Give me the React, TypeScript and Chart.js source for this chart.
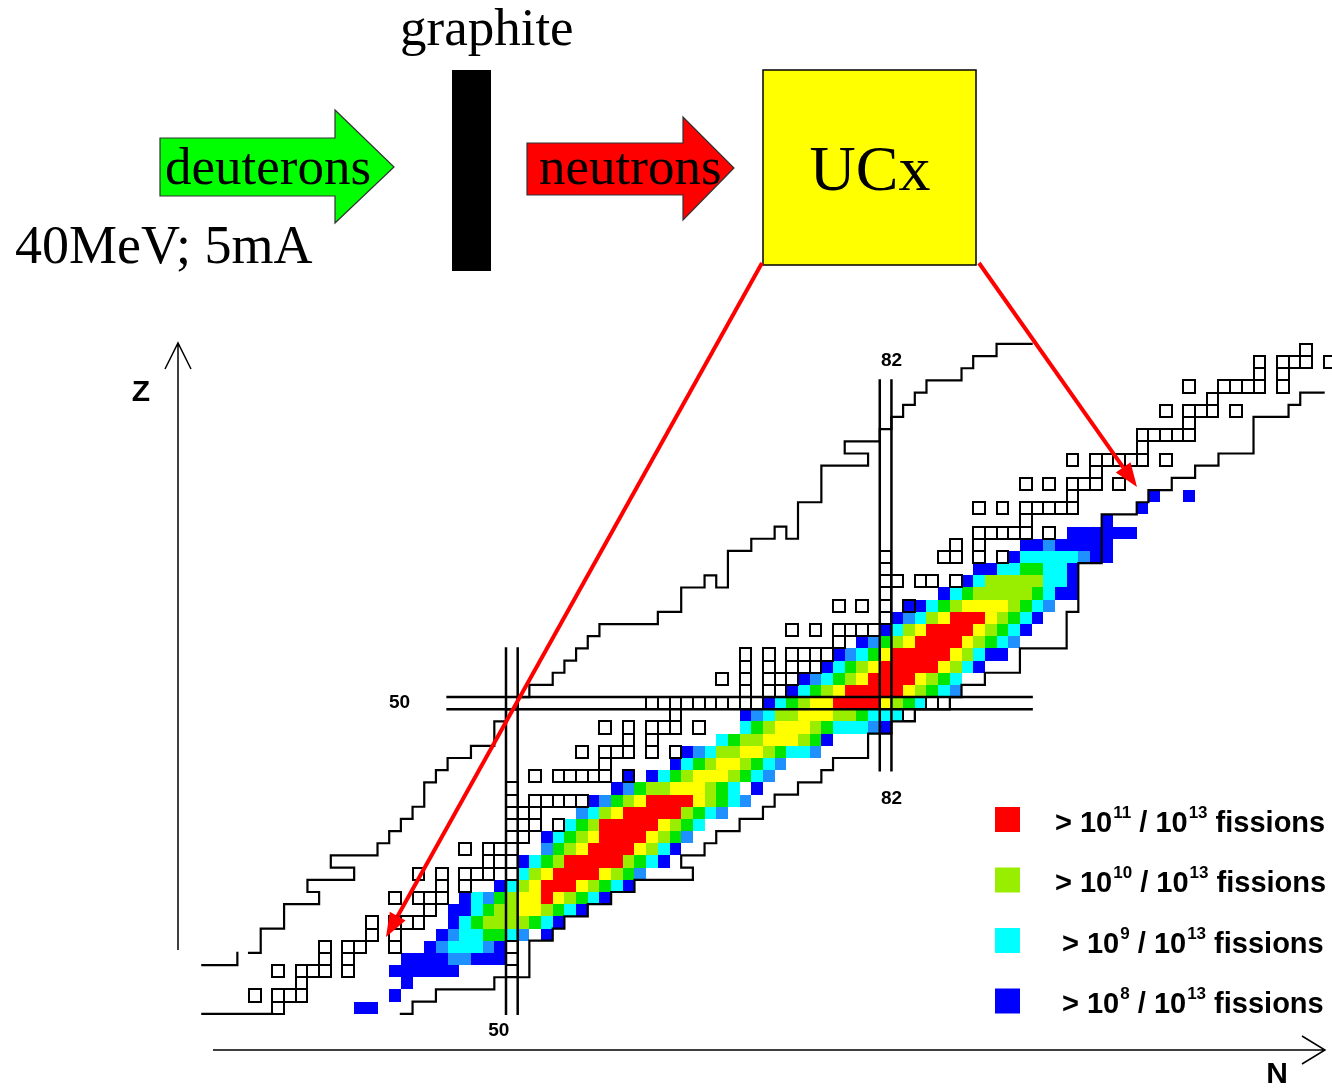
import React, { useEffect, useRef } from "react";
import { Chart, registerables } from "chart.js";

Chart.register(...registerables);

const CANVAS_W = 1332;
const CANVAS_H = 1088;

// ---------- DATA ----------
// proton number of each row of the nuclide chart
const rowZ = [25, 26, 27, 28, 29, 30, 31, 32, 33, 34, 35, 36, 37, 38, 39, 40, 41, 42, 43, 44, 45, 46, 47, 48, 49, 50, 51, 52, 53, 54, 55, 56, 57, 58, 59, 60, 61, 62, 63, 64, 65, 66, 67, 68, 69, 70, 71, 72, 73, 74, 75, 76, 77, 78, 79];
// neutron number of the first cell of each row
const rowStartN = [30, 28, 32, 30, 34, 34, 38, 38, 43, 40, 44, 42, 48, 46, 50, 50, 50, 50, 50, 52, 58, 56, 60, 58, 64, 62, 70, 68, 70, 70, 78, 74, 82, 78, 82, 82, 82, 82, 88, 90, 94, 90, 98, 94, 100, 98, 104, 104, 108, 106, 110, 108, 114, 114, 118];
// one char per neutron number: '.' none, 'o' known (open square), 'b' known & >1e8,
// B >1e8, D, C >1e9, G, L >1e10, Y, R >1e11 (per 1e13 fissions)
const rowCells = [
  "o......BB",
  "o.ooo.......B",
  "o........B",
  "o.ooo.o...BBBBBB....o",
  "o.o....BBBBDDBBBo",
  "o.oo..o..BDCCCDBo",
  "o.o...BDCCGGCD.B",
  "o.ooo..BCGLLLLGCB",
  "o.BBCGLLYYLGCB",
  "o.ooo.BCDGLYYRYLGCB",
  "o.o..BCLYRRRYLGCB",
  "o.o.ooo.oCLYRRRRYLGD",
  "oooBCGLRRRRRLGCB",
  "o.ooo..DGLYRRRRYLCB",
  "oo.BCGLYRRRRYLGD",
  "ooo.oCGLRRRRRYLGC",
  "ooo...DCLYRRRRRLGCD",
  "o.oooooBDGLYRRRRYLGCD",
  "o........BDGLLYYYLGC.B",
  "o.ooooo.b.BCGLYYYLGCD",
  "o.....BCGLYYLGCD",
  "o.ooo.o.oBDCLLYYLGCCD",
  "o.o.....CGLLYYYLGB",
  "o.o.ooo.o...CGLYYYLGCCCDB",
  "o.....BDCLLYYYLLGCCCo",
  "ooooooooooBCGLYYRRRRYLGCoo",
  "o.ooBCGLYRRRRRYLGCD",
  "o.o.oooBDCGLYRRRRYLGC",
  "o.o.oooBCGLYRRRRRYLCB",
  "o.o.ooooBDCGYRRRRRYLCBB",
  "o.BDGLYRRRRYLGCD",
  "o.o.ooooBCLYRRRRYLGCB",
  "oBDCLYRRRYLGCB",
  "o.o.o.bBCGLYYYYLGCD",
  "o....BCGLLLLLGCBB",
  "oo.oo.oBCLLLLLCCB",
  "o.......BBCCGGCCB",
  "o....oo.o.oBCCCCCDBB",
  "o.o...BBDBBBBB",
  "ooooo.o.BBBBBB",
  "o......B",
  "o.o.ooooo.....B",
  "o......B..B",
  "o.o.ooo.o",
  "o",
  "o.ooooo.o",
  "o",
  "ooooo",
  "o",
  "o.ooo.o",
  "o",
  "o..oooo.o",
  "o.o",
  "o.ooo.o",
  "o",
];

const cellColors: Record<string, string> = {
  R: "#ff0000",
  Y: "#ffff00",
  L: "#99ee00",
  G: "#00e600",
  C: "#00ffff",
  D: "#1e90ff",
  B: "#0000ff",
  b: "#0000ff",
};

// staircase boundaries of known nuclei, vertices as [N, Z] cell edges
const upperBoundaryA = [[23.5, 28.5], [26.5, 28.5], [26.5, 29.5]];
const upperBoundaryB = [[27.5, 29.5], [28.5, 29.5], [28.5, 31.5], [30.5, 31.5], [30.5, 33.5], [33.5, 33.5], [33.5, 34.5], [32.5, 34.5], [32.5, 35.5], [36.5, 35.5], [36.5, 36.5], [34.5, 36.5], [34.5, 37.5], [38.5, 37.5], [38.5, 38.5], [39.5, 38.5], [39.5, 39.5], [40.5, 39.5], [40.5, 40.5], [41.5, 40.5], [41.5, 41.5], [42.5, 41.5], [42.5, 43.5], [43.5, 43.5], [43.5, 44.5], [44.5, 44.5], [44.5, 45.5], [46.5, 45.5], [46.5, 46.5], [48.5, 46.5], [48.5, 48.5], [49.5, 48.5], [49.5, 49.5], [50.5, 49.5], [50.5, 50.5], [51.5, 50.5], [51.5, 51.5], [53.5, 51.5], [53.5, 52.5], [54.5, 52.5], [54.5, 53.5], [55.5, 53.5], [55.5, 54.5], [56.5, 54.5], [56.5, 55.5], [57.5, 55.5], [57.5, 56.5], [62.5, 56.5], [62.5, 57.5], [64.5, 57.5], [64.5, 59.5], [66.5, 59.5], [66.5, 60.5], [67.5, 60.5], [67.5, 59.5], [68.5, 59.5], [68.5, 62.5], [70.5, 62.5], [70.5, 63.5], [72.5, 63.5], [72.5, 64.5], [73.5, 64.5], [73.5, 63.5], [74.5, 63.5], [74.5, 66.5], [76.5, 66.5], [76.5, 69.5], [80.5, 69.5], [80.5, 70.5], [78.5, 70.5], [78.5, 71.5], [81.5, 71.5], [81.5, 72.5], [82.5, 72.5], [82.5, 73.5], [83.5, 73.5], [83.5, 74.5], [84.5, 74.5], [84.5, 75.5], [85.5, 75.5], [85.5, 76.5], [88.5, 76.5], [88.5, 77.5], [89.5, 77.5], [89.5, 78.5], [91.5, 78.5], [91.5, 79.5], [94.5, 79.5]];
const lowerBoundaryA = [[23.5, 24.5], [29.5, 24.5]];
const lowerBoundaryB = [[40.5, 24.5], [41.5, 24.5], [41.5, 25.5], [43.5, 25.5], [43.5, 26.5], [48.5, 26.5], [48.5, 27.5], [51.5, 27.5], [51.5, 30.5], [53.5, 30.5], [53.5, 31.5], [54.5, 31.5], [54.5, 32.5], [56.5, 32.5], [56.5, 33.5], [58.5, 33.5], [58.5, 34.5], [60.5, 34.5], [60.5, 35.5], [65.5, 35.5], [65.5, 36.5], [64.5, 36.5], [64.5, 37.5], [66.5, 37.5], [66.5, 38.5], [67.5, 38.5], [67.5, 39.5], [69.5, 39.5], [69.5, 40.5], [71.5, 40.5], [71.5, 41.5], [72.5, 41.5], [72.5, 42.5], [74.5, 42.5], [74.5, 43.5], [76.5, 43.5], [76.5, 44.5], [77.5, 44.5], [77.5, 45.5], [80.5, 45.5], [80.5, 47.5], [82.5, 47.5], [82.5, 48.5], [84.5, 48.5], [84.5, 49.5], [87.5, 49.5], [87.5, 50.5], [88.5, 50.5], [88.5, 51.5], [90.5, 51.5], [90.5, 52.5], [93.5, 52.5], [93.5, 54.5], [97.5, 54.5], [97.5, 57.5], [98.5, 57.5], [98.5, 61.5], [100.5, 61.5], [100.5, 65.5], [103.5, 65.5], [103.5, 66.5], [104.5, 66.5], [104.5, 67.5], [106.5, 67.5], [106.5, 68.5], [108.5, 68.5], [108.5, 69.5], [110.5, 69.5], [110.5, 70.5], [113.5, 70.5], [113.5, 73.5], [116.5, 73.5], [116.5, 74.5], [117.5, 74.5], [117.5, 75.5], [119.5, 75.5]];

// magic numbers (double lines around the magic row / column)
const magicNeutrons = [50, 82];
const magicNeutronZRange = [[24.5, 54.5], [44.5, 76.5]];
const magicProtons = [50];
const magicProtonNRange = [[44.5, 94.5]];

// legend
const legendExponents = ["11", "10", "9", "8"];
const legendColors = ["#ff0000", "#99ee00", "#00ffff", "#0000ff"];

// ---------- layout (pixel geometry of the grid) ----------
const N50_PX = 511.84;
const Z50_PX = 703.2;
const N_PITCH = 11.68;
const Z_PITCH = 12.18;
const X_MIN = 50 - N50_PX / N_PITCH;
const X_MAX = X_MIN + CANVAS_W / N_PITCH;
const Y_MAX = 50 + Z50_PX / Z_PITCH;
const Y_MIN = Y_MAX - CANVAS_H / Z_PITCH;

const SERIF = '"Liberation Serif", "Times New Roman", serif';
const SANS = '"Liberation Sans", Arial, sans-serif';

const toPts = (arr: number[][]) => arr.map(([n, z]) => ({ x: n, y: z }));

function lineDataset(pts: { x: number; y: number }[], width: number) {
  return {
    data: pts,
    showLine: true,
    borderColor: "#000000",
    borderWidth: width,
    pointRadius: 0,
    pointHoverRadius: 0,
    borderJoinStyle: "miter" as const,
    borderCapStyle: "square" as const,
    fill: false,
    tension: 0,
  };
}

function drawArrowLine(ctx: CanvasRenderingContext2D, x0: number, y0: number, x1: number, y1: number) {
  const ang = Math.atan2(y1 - y0, x1 - x0);
  const headLen = 24;
  const headW = 9;
  const bx = x1 - headLen * Math.cos(ang);
  const by = y1 - headLen * Math.sin(ang);
  ctx.strokeStyle = "#ff0000";
  ctx.fillStyle = "#ff0000";
  ctx.lineWidth = 4;
  ctx.lineCap = "butt";
  ctx.beginPath();
  ctx.moveTo(x0, y0);
  ctx.lineTo(bx, by);
  ctx.stroke();
  ctx.beginPath();
  ctx.moveTo(x1, y1);
  ctx.lineTo(bx + headW * Math.sin(ang), by - headW * Math.cos(ang));
  ctx.lineTo(bx - headW * Math.sin(ang), by + headW * Math.cos(ang));
  ctx.closePath();
  ctx.fill();
}

function polygon(ctx: CanvasRenderingContext2D, pts: number[][], fill: string) {
  ctx.beginPath();
  pts.forEach(([x, y], i) => (i === 0 ? ctx.moveTo(x, y) : ctx.lineTo(x, y)));
  ctx.closePath();
  ctx.fillStyle = fill;
  ctx.fill();
  ctx.strokeStyle = "#333333";
  ctx.lineWidth = 1.2;
  ctx.stroke();
}

const cellsPlugin = {
  id: "nuclideCells",
  beforeDatasetsDraw(chart: any) {
    const { ctx } = chart;
    const xs = chart.scales.x;
    const ys = chart.scales.y;
    const rect = (n: number, z: number) => {
      const x0 = Math.round(xs.getPixelForValue(n - 0.5));
      const x1 = Math.round(xs.getPixelForValue(n + 0.5));
      const y0 = Math.round(ys.getPixelForValue(z + 0.5));
      const y1 = Math.round(ys.getPixelForValue(z - 0.5));
      return [x0, y0, x1 - x0, y1 - y0];
    };
    ctx.save();
    rowCells.forEach((cells, i) => {
      for (let j = 0; j < cells.length; j++) {
        const ch = cells[j];
        if (ch === "." || ch === "o") continue;
        const [x, y, w, h] = rect(rowStartN[i] + j, rowZ[i]);
        ctx.fillStyle = cellColors[ch];
        ctx.fillRect(x, y, w, h);
      }
    });
    ctx.strokeStyle = "#000000";
    ctx.lineWidth = 2;
    rowCells.forEach((cells, i) => {
      for (let j = 0; j < cells.length; j++) {
        const ch = cells[j];
        if (ch !== "o" && ch !== "b") continue;
        const [x, y, w, h] = rect(rowStartN[i] + j, rowZ[i]);
        ctx.strokeRect(x, y, w, h);
      }
    });
    ctx.restore();
  },
};

const overlayPlugin = {
  id: "overlay",
  afterDraw(chart: any) {
    const { ctx } = chart;
    const xs = chart.scales.x;
    const ys = chart.scales.y;
    ctx.save();

    // magic number labels
    ctx.fillStyle = "#000";
    ctx.font = `bold 19px ${SANS}`;
    ctx.textAlign = "center";
    ctx.textBaseline = "middle";
    ctx.fillText(String(magicProtons[0]), xs.getPixelForValue(magicProtonNRange[0][0]) - 48, ys.getPixelForValue(magicProtons[0]));
    ctx.fillText(String(magicNeutrons[0]), xs.getPixelForValue(magicNeutrons[0]) - 13, ys.getPixelForValue(magicNeutronZRange[0][0]) + 17);
    ctx.fillText(String(magicNeutrons[1]), xs.getPixelForValue(magicNeutrons[1]) + 6, ys.getPixelForValue(magicNeutronZRange[1][1]) - 20);
    ctx.fillText(String(magicNeutrons[1]), xs.getPixelForValue(magicNeutrons[1]) + 6, ys.getPixelForValue(magicNeutronZRange[1][0]) + 29);

    // axes arrows
    ctx.strokeStyle = "#000";
    ctx.lineWidth = 1.5;
    ctx.beginPath();
    ctx.moveTo(178, 950);
    ctx.lineTo(178, 343);
    ctx.moveTo(165, 369);
    ctx.lineTo(178, 343);
    ctx.lineTo(191, 369);
    ctx.moveTo(213, 1050);
    ctx.lineTo(1325, 1050);
    ctx.moveTo(1302, 1036);
    ctx.lineTo(1325, 1050);
    ctx.lineTo(1302, 1064);
    ctx.stroke();
    ctx.font = `bold 30px ${SANS}`;
    ctx.fillText("Z", 141, 393);
    ctx.fillText("N", 1277, 1075);

    // top schematic
    polygon(ctx, [[160, 138], [335, 138], [335, 110], [394, 167], [335, 223], [335, 196], [160, 196]], "#00ff00");
    polygon(ctx, [[527, 143], [683, 143], [683, 117], [734, 168], [683, 220], [683, 195], [527, 195]], "#ff0000");
    ctx.fillStyle = "#000";
    ctx.fillRect(452, 70, 39, 201);
    ctx.fillStyle = "#ffff00";
    ctx.fillRect(763, 70, 213, 195);
    ctx.strokeStyle = "#000";
    ctx.lineWidth = 1.5;
    ctx.strokeRect(763, 70, 213, 195);

    ctx.fillStyle = "#000";
    ctx.textBaseline = "alphabetic";
    ctx.textAlign = "left";
    ctx.font = `53px ${SERIF}`;
    ctx.fillText("graphite", 400, 45);
    ctx.fillText("deuterons", 165, 184);
    ctx.fillText("neutrons", 539, 184);
    ctx.font = `54px ${SERIF}`;
    ctx.fillText("40MeV; 5mA", 15, 263);
    ctx.textAlign = "center";
    ctx.font = `64px ${SERIF}`;
    ctx.fillText("UCx", 870, 190);

    // legend
    const textX = [1055, 1055, 1062, 1062];
    legendColors.forEach((col, i) => {
      const sy = 807 + i * 60.5;
      ctx.fillStyle = col;
      ctx.fillRect(995, sy, 25, 25);
      const base = 832 + i * 60.3;
      let x = textX[i];
      ctx.fillStyle = "#000";
      ctx.textAlign = "left";
      const big = `bold 29px ${SANS}`;
      const small = `bold 17px ${SANS}`;
      const piece = (t: string, font: string, dy: number) => {
        ctx.font = font;
        ctx.fillText(t, x, base + dy);
        x += ctx.measureText(t).width;
      };
      piece("> ", big, 0);
      piece("10", big, 0);
      x += 1;
      piece(legendExponents[i], small, -14);
      piece(" / ", big, 0);
      piece("10", big, 0);
      x += 1;
      piece("13", small, -14);
      piece(" fissions", big, 0);
    });

    // red pointer arrows from the target to the chart
    drawArrowLine(ctx, 762, 263, 386, 937);
    drawArrowLine(ctx, 979, 263, 1137, 487);

    ctx.restore();
  },
};

export default function App() {
  const ref = useRef<HTMLCanvasElement | null>(null);

  useEffect(() => {
    document.body.style.margin = "0";
    document.body.style.overflow = "hidden";
    const canvas = ref.current;
    if (!canvas) return;

    const datasets: any[] = [];
    [upperBoundaryA, upperBoundaryB, lowerBoundaryA, lowerBoundaryB].forEach((b) => datasets.push(lineDataset(toPts(b), 2.2)));
    magicNeutrons.forEach((m, i) => {
      const [z0, z1] = magicNeutronZRange[i];
      [m - 0.5, m + 0.5].forEach((xv) => datasets.push(lineDataset([{ x: xv, y: z0 }, { x: xv, y: z1 }], 2.5)));
    });
    magicProtons.forEach((m, i) => {
      const [n0, n1] = magicProtonNRange[i];
      [m - 0.5, m + 0.5].forEach((yv) => datasets.push(lineDataset([{ x: n0, y: yv }, { x: n1, y: yv }], 2.5)));
    });

    const chart = new Chart(canvas, {
      type: "scatter",
      data: { datasets },
      options: {
        animation: false,
        responsive: false,
        devicePixelRatio: 1,
        events: [],
        layout: { padding: 0 },
        scales: {
          x: { type: "linear", min: X_MIN, max: X_MAX, display: false },
          y: { type: "linear", min: Y_MIN, max: Y_MAX, display: false },
        },
        plugins: { legend: { display: false }, tooltip: { enabled: false } },
      },
      plugins: [cellsPlugin, overlayPlugin],
    } as any);

    return () => chart.destroy();
  }, []);

  return (
    <canvas
      ref={ref}
      width={CANVAS_W}
      height={CANVAS_H}
      style={{ position: "absolute", left: 0, top: 0, display: "block", background: "#ffffff" }}
    />
  );
}
